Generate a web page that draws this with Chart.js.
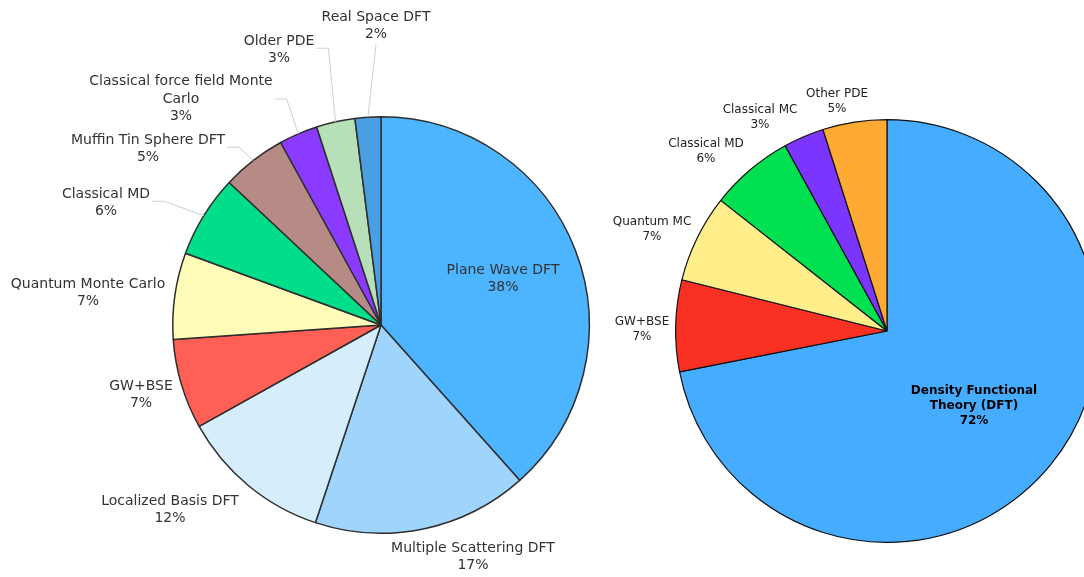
<!DOCTYPE html>
<html lang="en">
  <head>
    <meta charset="UTF-8" />
    <title>Method shares</title>
    <script src="https://cdn.jsdelivr.net/npm/chart.js@4"></script>
    <style>
      html, body {
        margin: 0;
        background: #ffffff;
        overflow: hidden;
        width: 1084px;
        height: 577px;
      }
      .wrap {
        position: absolute;
        top: 0;
      }
    </style>
  </head>
  <body>
    <div class="wrap" style="left: 0"><canvas id="left" width="600" height="577"></canvas></div>
    <div class="wrap" style="left: 560px"><canvas id="right" width="700" height="577"></canvas></div>

    <script>
      // left pie: detailed breakdown
      const leftLabels = [
        'Plane Wave DFT', 'Multiple Scattering DFT', 'Localized Basis DFT', 'GW+BSE',
        'Quantum Monte Carlo', 'Classical MD', 'Muffin Tin Sphere DFT',
        'Classical force field Monte Carlo', 'Older PDE', 'Real Space DFT'
      ]
      const leftValues = [38.4, 16.7, 11.8, 7.0, 6.7, 6.4, 5.0, 3.0, 3.0, 2.0]
      const leftColors = [
        '#4db5ff', '#9fd5fc', '#d6eefc', '#ff5f55', '#fffbb8',
        '#00de8a', '#b68a85', '#8a3bff', '#b7e0b8', '#4a9fe3'
      ]

      // right pie: grouped
      const rightLabels = ['Density Functional Theory (DFT)', 'GW+BSE', 'Quantum MC', 'Classical MD', 'Classical MC', 'Other PDE']
      const rightValues = [71.9, 7.0, 6.7, 6.4, 3.1, 4.9]
      const rightColors = ['#45acff', '#f93022', '#ffee8a', '#00e050', '#7b35ff', '#ffaa33']

      // text placement, px offset of the text block centre from the pie centre
      const leftPlace = [
        { dx: 122, dy: -46, lines: ['Plane Wave DFT'] },
        { dx: 92, dy: 232, lines: ['Multiple Scattering DFT'] },
        { dx: -211, dy: 185, lines: ['Localized Basis DFT'] },
        { dx: -240, dy: 70, lines: ['GW+BSE'] },
        { dx: -293, dy: -32, lines: ['Quantum Monte Carlo'] },
        { dx: -275, dy: -122, lines: ['Classical MD'], leader: true },
        { dx: -233, dy: -176, lines: ['Muffin Tin Sphere DFT'], leader: true },
        { dx: -200, dy: -226, lines: ['Classical force field Monte', 'Carlo'], leader: true },
        { dx: -102, dy: -275, lines: ['Older PDE'], leader: true },
        { dx: -5, dy: -299, lines: ['Real Space DFT'], leader: 'direct' }
      ]
      const rightPlace = [
        { dx: 87, dy: 75, lines: ['Density Functional', 'Theory (DFT)'], bold: true },
        { dx: -245, dy: -2, lines: ['GW+BSE'] },
        { dx: -235, dy: -102, lines: ['Quantum MC'] },
        { dx: -181, dy: -180, lines: ['Classical MD'] },
        { dx: -127, dy: -214, lines: ['Classical MC'] },
        { dx: -50, dy: -230, lines: ['Other PDE'] }
      ]

      const sliceLabels = {
        id: 'sliceLabels',
        afterDraw(chart, args, opts) {
          const ctx = chart.ctx
          const meta = chart.getDatasetMeta(0)
          const data = chart.data.datasets[0].data
          const total = data.reduce((a, b) => a + b, 0)
          ctx.save()
          ctx.textAlign = 'center'
          ctx.textBaseline = 'middle'
          meta.data.forEach((arc, i) => {
            const p = opts.place[i]
            const cx = arc.x
            const cy = arc.y
            const pct = Math.round((data[i] / total) * 100) + '%'
            const lines = p.lines.concat([pct])
            const lh = opts.lineHeight
            const bx = cx + p.dx
            const by = cy + p.dy
            const top = by - ((lines.length - 1) * lh) / 2
            ctx.font = (p.bold ? 'bold ' : '') + opts.size + 'px "DejaVu Sans", Verdana, sans-serif'
            ctx.fillStyle = p.bold ? '#000000' : opts.color
            lines.forEach((t, k) => ctx.fillText(t, bx, top + k * lh))

            if (p.leader) {
              const mid = (arc.startAngle + arc.endAngle) / 2
              const sx = cx + Math.cos(mid) * arc.outerRadius
              const sy = cy + Math.sin(mid) * arc.outerRadius
              ctx.strokeStyle = '#cfcfcf'
              ctx.lineWidth = 1
              ctx.beginPath()
              ctx.moveTo(sx, sy)
              if (p.leader === 'direct') {
                ctx.lineTo(bx, top + (lines.length - 1) * lh + lh / 2 + 1)
              } else {
                let w = 0
                p.lines.forEach(t => (w = Math.max(w, ctx.measureText(t).width)))
                const edge = bx + w / 2 + 2
                const ey = lines.length === 2 ? top + lh * 0.4 : by
                ctx.lineTo(edge + 12, ey)
                ctx.lineTo(edge, ey)
              }
              ctx.stroke()
            }
          })
          ctx.restore()
        }
      }

      function makePie(id, labels, values, colors, border, bw, padding, place, size, lineHeight, color) {
        return new Chart(document.getElementById(id), {
          type: 'pie',
          data: {
            labels: labels,
            datasets: [{
              data: values,
              backgroundColor: colors,
              borderColor: border,
              borderWidth: bw,
              hoverOffset: 0
            }]
          },
          options: {
            responsive: false,
            animation: false,
            layout: { padding: padding },
            plugins: {
              legend: { display: false },
              tooltip: { enabled: false },
              sliceLabels: { place: place, size: size, lineHeight: lineHeight, color: color }
            }
          },
          plugins: [sliceLabels]
        })
      }

      makePie('left', leftLabels, leftValues, leftColors, '#2e2e2e', 1.5,
        { left: 172, right: 10, top: 116, bottom: 43 }, leftPlace, 14, 17.5, '#333333')
      makePie('right', rightLabels, rightValues, rightColors, '#111111', 1.2,
        { left: 115, right: 161, top: 119, bottom: 34 }, rightPlace, 12, 15, '#222222')
    </script>
  </body>
</html>
